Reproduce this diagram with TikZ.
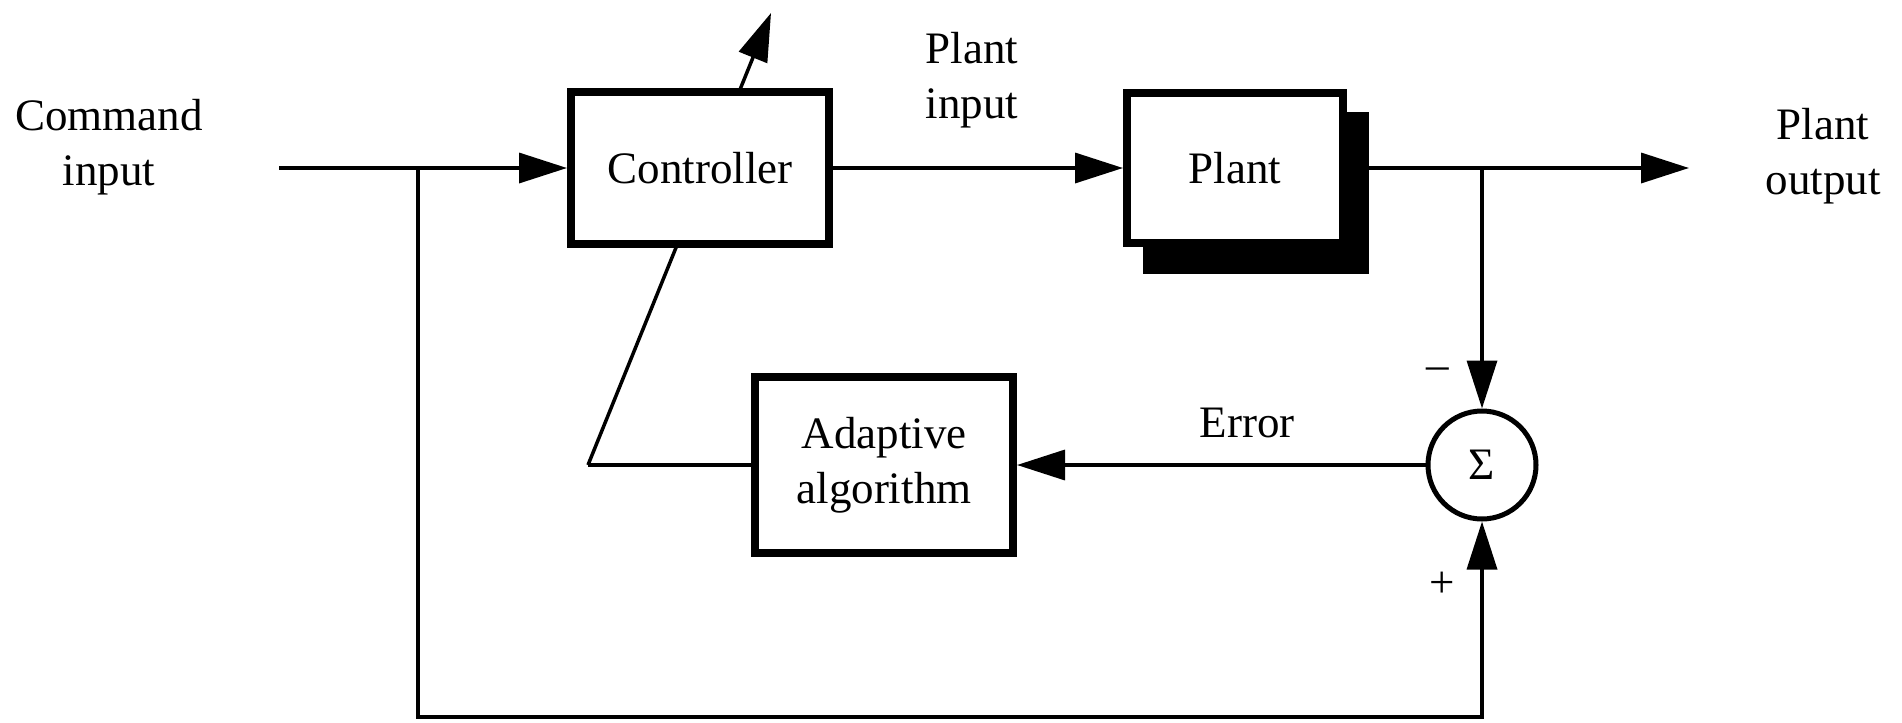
\documentclass[tikz,border=0pt]{standalone}
\usepackage{fontspec}
\setmainfont{Liberation Serif}
\usetikzlibrary{arrows.meta,calc,backgrounds}

\begin{document}
\begin{tikzpicture}[x=0.5pt,y=-0.5pt,
  txt/.style={font=\fontsize{22.5}{27.5}\selectfont},
  blk/.style={txt,draw,line width=4pt,fill=white,inner sep=0pt,align=center},
  lbl/.style={txt,align=center,inner sep=0pt},
  wire/.style={line width=1.75pt},
  arr/.style={wire,-{Triangle[length=24pt,width=15pt]}}]

\useasboundingbox (0,0) rectangle (1902,723);

% blocks
\node[blk,minimum width=129pt,minimum height=76pt] (ctrl) at (700,168) {Controller};
\node[blk,minimum width=108pt,minimum height=75pt] (plant) at (1235,168) {Plant};
\node[blk,minimum width=129pt,minimum height=88pt] (adapt) at (884,465) {Adaptive\\algorithm};
\node[txt,draw,circle,line width=2.5pt,fill=white,minimum size=54pt,inner sep=0pt] (sum) at (1482,465) {Σ};

% drop shadow behind the plant
\begin{pgfonlayer}{background}
  \fill ($(plant.north west)+(20,23)$) rectangle ($(plant.south east)+(22,27)$);
\end{pgfonlayer}

% labels
\node[lbl] (cmd) at (109,147) {Command\\input};
\node[lbl] (pin) at (972,80) {Plant\\input};
\node[lbl] (pout) at (1823,156) {Plant\\output};
\node[lbl,anchor=base] (err) at (1247,437) {Error};
\node[lbl] (minus) at (1438,374) {–};
\node[lbl] (plus) at (1442,585) {+};

% coordinates of free ends and corners
\coordinate (cin) at (279,168);
\coordinate (j1) at (418,168);
\coordinate (bl) at (418,717);
\coordinate (j2) at (1482,168);
\coordinate (yout) at (1689,168);
\coordinate (bend) at (588,465);
\coordinate (tune) at (771,13);

% signal paths
\draw[arr] (cin) -- (ctrl.west);
\draw[arr] (ctrl.east) -- (plant.west);
\draw[arr] (plant.east) -- (yout);
\draw[arr] (j2) -- (sum.north);
\draw[arr] (j1) -- (bl) -| (sum.south);
\draw[arr] (sum.west) -- (adapt.east);

% adaptation path crossing the controller
\draw[wire] (adapt.west) -- (bend);
\begin{pgfonlayer}{background}
  \draw[arr] (bend) -- (tune);
\end{pgfonlayer}
\end{tikzpicture}
\end{document}
